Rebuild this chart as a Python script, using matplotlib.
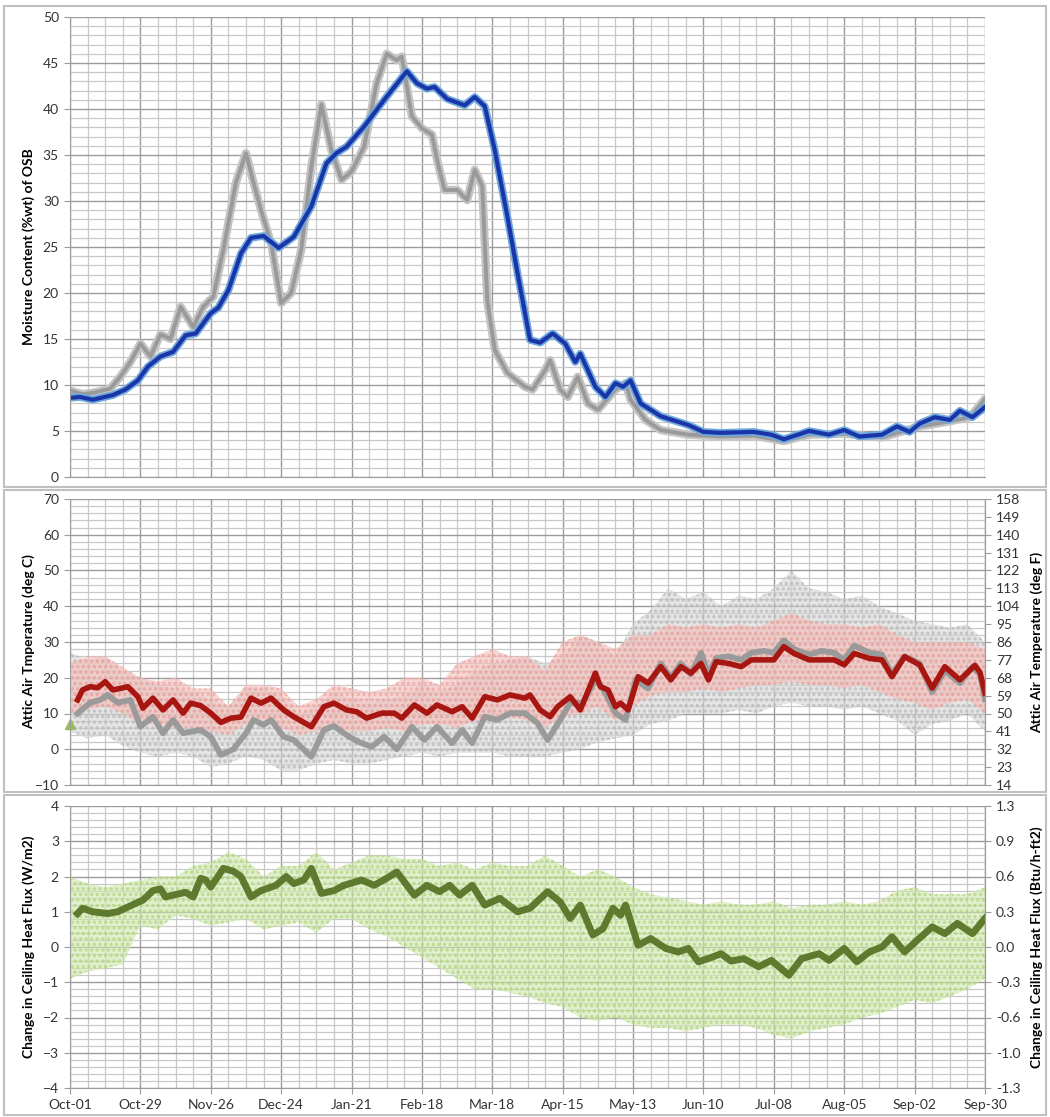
import numpy as np
import matplotlib
matplotlib.use("Agg")
import matplotlib.pyplot as plt
from matplotlib.ticker import MultipleLocator
from matplotlib.patches import Rectangle

plt.rcParams['font.family'] = ['Lato', 'DejaVu Sans']
plt.rcParams['hatch.linewidth'] = 1.6

# ---- x axis (days since Oct-01) ----
tick_days = [0, 28, 56, 84, 112, 140, 168, 196, 224, 252, 280, 308, 336, 364]
tick_labels = ["Oct-01", "Oct-29", "Nov-26", "Dec-24", "Jan-21", "Feb-18", "Mar-18",
               "Apr-15", "May-13", "Jun-10", "Jul-08", "Aug-05", "Sep-02", "Sep-30"]
week_days = list(range(0, 365, 7))

# ---- top panel: moisture content of OSB (%wt) ----
mc_blue_day = [0, 4, 9, 17, 22, 27, 31, 36, 41, 46, 50, 56, 59, 63, 68, 72, 77, 83, 89, 96,
               102, 106, 110, 117, 125, 134, 138, 142, 145, 150, 157, 161, 165, 169, 174, 178, 183, 187, 192, 197,
               201, 203, 209, 213, 217, 220, 223, 227, 235, 246, 252, 259, 272, 279, 284, 294, 302, 308, 314, 323,
               329, 334, 338, 344, 350, 354, 359, 364]
mc_blue = [8.6, 8.7, 8.4, 8.9, 9.5, 10.5, 12.0, 13.1, 13.6, 15.4, 15.6, 17.8, 18.4, 20.3, 24.3, 26.0, 26.2, 24.9, 26.1, 29.4,
           34.1, 35.2, 35.9, 38.1, 41.0, 44.1, 42.8, 42.2, 42.4, 41.1, 40.4, 41.3, 40.3, 35.5, 28.3, 22.2, 14.9, 14.6, 15.6, 14.5,
           12.5, 13.4, 9.8, 8.7, 10.2, 9.8, 10.5, 8.0, 6.6, 5.65, 4.9, 4.8, 4.9, 4.6, 4.1, 5.0, 4.6, 5.1, 4.4, 4.6,
           5.5, 4.9, 5.8, 6.5, 6.2, 7.2, 6.5, 7.6]

mc_gray_day = [0, 5, 10, 16, 20, 24, 28, 32, 36, 40, 44, 49, 53, 57, 61, 66, 70, 73, 76, 80,
               84, 88, 92, 96, 100, 104, 108, 112, 117, 122, 126, 130, 132, 136, 140, 144, 146, 149, 154, 158,
               161, 164, 166, 169, 174, 181, 184, 189, 191, 195, 198, 202, 206, 210, 217, 221, 223, 229, 235, 246,
               259, 272, 284, 294, 308, 323, 338, 349, 358, 364]
mc_gray = [9.4, 9.0, 9.2, 9.6, 10.9, 12.5, 14.5, 13.1, 15.5, 15.0, 18.5, 16.3, 18.5, 19.6, 24.7, 32.0, 35.2, 32.0, 29.0, 25.4,
           18.9, 20.0, 24.7, 33.7, 40.5, 35.5, 32.3, 33.2, 35.9, 42.8, 46.0, 45.3, 45.7, 39.2, 37.9, 37.2, 34.5, 31.2, 31.2, 30.1,
           33.4, 31.6, 19.2, 13.8, 11.3, 9.8, 9.5, 11.6, 12.7, 9.5, 8.7, 10.9, 8.0, 7.3, 9.5, 10.2, 8.4, 6.2, 5.1, 4.6,
           4.4, 4.5, 3.9, 4.6, 4.7, 4.3, 5.5, 6.0, 6.5, 8.5]

# ---- middle panel: attic air temperature (deg C) ----
red_day = [3, 5, 8, 11, 14, 17, 20, 23, 27, 29, 33, 37, 41, 45, 48, 52, 56, 60, 64, 68,
           72, 76, 80, 85, 89, 96, 101, 105, 110, 114, 118, 124, 129, 132, 137, 142, 146, 152, 156, 160,
           165, 170, 175, 181, 183, 187, 191, 194, 199, 203, 209, 211, 214, 217, 219, 222, 226, 230, 235, 239,
           243, 247, 251, 254, 257, 262, 267, 271, 276, 280, 284, 288, 294, 299, 304, 308, 312, 318, 323, 327,
           332, 338, 343, 348, 354, 360, 362, 364]
red_temp = [13.8, 16.6, 17.5, 17.2, 18.9, 16.6, 17.0, 17.5, 14.7, 11.5, 14.3, 11.0, 13.8, 10.1, 12.9, 12.2, 10.1, 7.5, 8.7, 9.0,
            14.3, 12.9, 14.3, 11.0, 9.1, 6.3, 11.9, 12.9, 11.0, 10.5, 8.7, 10.1, 10.1, 8.7, 12.4, 10.1, 12.4, 10.5, 11.9, 8.7,
            14.7, 13.8, 15.2, 14.3, 15.2, 11.0, 9.1, 11.9, 14.7, 11.0, 21.3, 17.5, 16.6, 11.9, 12.9, 11.0, 20.3, 18.5, 23.1, 19.4,
            23.1, 21.3, 24.0, 19.4, 24.5, 24.0, 23.1, 25.0, 25.0, 25.0, 28.7, 26.8, 25.0, 25.0, 25.0, 23.6, 26.8, 25.4, 25.0, 20.3,
            25.9, 23.6, 17.1, 23.1, 19.4, 23.5, 21.5, 15.7]

gray_t_day = [3, 8, 12, 15, 19, 24, 28, 33, 37, 41, 45, 52, 56, 60, 65, 70, 73, 77, 80, 85,
              89, 96, 101, 105, 111, 115, 120, 125, 130, 136, 141, 146, 152, 156, 160, 165, 170, 175, 181, 186,
              190, 195, 199, 204, 209, 212, 217, 221, 225, 230, 235, 239, 243, 247, 251, 254, 257, 262, 267, 271,
              276, 280, 284, 288, 294, 299, 304, 308, 312, 318, 323, 327, 332, 338, 343, 348, 354, 359, 362, 364]
gray_temp = [10.0, 13.0, 13.8, 15.2, 13.0, 13.8, 6.3, 9.1, 4.5, 8.2, 4.5, 5.4, 3.5, -1.6, 0.0, 4.5, 8.2, 6.8, 8.2, 3.5,
             2.6, -2.1, 5.4, 6.5, 3.5, 2.0, 0.7, 3.5, 0.0, 6.3, 2.6, 6.3, 1.7, 5.4, 1.7, 9.1, 8.2, 10.1, 10.1, 7.3,
             2.6, 8.2, 12.9, 13.0, 19.4, 17.0, 10.1, 8.2, 19.4, 17.0, 24.0, 20.0, 24.0, 21.0, 27.0, 21.0, 25.5, 26.0, 25.0, 27.0,
             27.5, 27.0, 30.5, 28.0, 26.5, 27.5, 27.0, 25.0, 29.0, 27.0, 26.5, 21.0, 26.0, 24.0, 16.0, 22.0, 18.5, 23.0, 21.0, 14.0]

# weekly envelopes of the hourly clouds
gray_cloud_hi = [27, 25, 26, 22, 20, 18, 17, 16, 14, 12, 17, 17, 15, 10, 12, 16, 14, 13, 14, 15,
                 18, 16, 18, 22, 24, 25, 26, 24, 26, 32, 30, 26, 35, 39, 45, 42, 44, 40, 43, 42,
                 45, 50, 45, 44, 42, 43, 40, 38, 36, 35, 34, 35, 30]
gray_cloud_lo = [5, 3, 4, 1, -1, -2, -1, -2, -5, -4, -2, -3, -6, -6, -4, -3, -4, -4, -3, -2,
                 -1, -2, -1, -1, -1, -2, -2, -2, -1, 0, 2, 3, 4, 7, 8, 10, 10, 10, 11, 10,
                 12, 13, 12, 12, 11, 12, 10, 8, 4, 7, 8, 10, 5]
pink_cloud_hi = [24, 26, 26, 23, 20, 19, 20, 17, 17, 12, 18, 18, 17, 12, 14, 18, 17, 16, 17, 20,
                 20, 18, 24, 26, 28, 26, 26, 22, 30, 32, 30, 28, 32, 32, 35, 34, 35, 34, 35, 34,
                 36, 38, 36, 35, 35, 34, 35, 32, 30, 30, 30, 30, 28]
pink_cloud_lo = [10, 11, 12, 10, 7, 7, 6, 6, 5, 4, 7, 8, 6, 4, 5, 6, 5, 5, 6, 5,
                 7, 7, 6, 8, 8, 9, 8, 6, 9, 10, 12, 8, 12, 15, 16, 16, 17, 16, 17, 18,
                 18, 19, 18, 18, 17, 18, 16, 14, 13, 11, 13, 14, 10]

# ---- bottom panel: change in ceiling heat flux (W/m2) ----
green_day = [3, 5, 9, 15, 19, 22, 25, 29, 33, 36, 38, 44, 46, 49, 52, 54, 56, 61, 65, 68,
             72, 76, 82, 86, 89, 93, 96, 100, 105, 109, 116, 121, 126, 130, 137, 142, 147, 151, 155, 160,
             165, 171, 178, 183, 190, 195, 199, 203, 208, 212, 216, 219, 221, 226, 231, 237, 242, 246, 250, 255,
             259, 263, 268, 274, 279, 286, 291, 298, 302, 308, 313, 318, 323, 327, 332, 337, 343, 348, 353, 359,
             364]
green_flux = [0.95, 1.1, 1.0, 0.95, 1.0, 1.1, 1.2, 1.33, 1.6, 1.65, 1.42, 1.52, 1.55, 1.42, 1.95, 1.9, 1.7, 2.23, 2.15, 2.0,
              1.42, 1.6, 1.75, 2.0, 1.8, 1.9, 2.23, 1.52, 1.6, 1.75, 1.9, 1.75, 1.95, 2.13, 1.47, 1.75, 1.57, 1.75, 1.47, 1.75,
              1.19, 1.38, 1.0, 1.1, 1.57, 1.28, 0.81, 1.19, 0.34, 0.52, 1.1, 0.9, 1.19, 0.05, 0.24, -0.04, -0.14, -0.04, -0.42, -0.3,
              -0.19, -0.4, -0.33, -0.56, -0.38, -0.8, -0.33, -0.19, -0.38, -0.04, -0.42, -0.14, 0.0, 0.29, -0.14, 0.19, 0.57, 0.38, 0.67, 0.38,
              0.81]
green_cloud_hi = [2.0, 1.8, 1.7, 1.8, 1.9, 2.0, 2.0, 2.3, 2.4, 2.7, 2.5, 2.0, 2.3, 2.3, 2.7, 2.2, 2.4, 2.6, 2.6, 2.5,
                  2.5, 2.3, 2.4, 2.2, 2.4, 2.3, 2.3, 2.6, 2.3, 2.0, 2.2, 2.0, 1.7, 1.5, 1.4, 1.3, 1.2, 1.3, 1.2, 1.2,
                  1.3, 1.1, 1.2, 1.2, 1.3, 1.2, 1.3, 1.6, 1.7, 1.5, 1.5, 1.5, 1.7]
green_cloud_lo = [-0.9, -0.7, -0.6, -0.5, 0.6, 0.5, 0.9, 0.8, 0.6, 0.7, 0.8, 0.5, 0.6, 0.7, 0.4, 0.8, 0.8, 0.5, 0.3, 0.0,
                  -0.3, -0.6, -0.9, -1.2, -1.2, -1.3, -1.4, -1.6, -1.7, -2.0, -2.1, -2.0, -2.2, -2.3, -2.3, -2.4, -2.3, -2.2, -2.2, -2.3,
                  -2.5, -2.6, -2.4, -2.3, -2.2, -2.0, -1.9, -1.7, -1.5, -1.6, -1.4, -1.2, -0.9]
flux_right_labels = ["-1.3", "-1.0", "-0.6", "-0.3", "0.0", "0.3", "0.6", "0.9", "1.3"]

W, H = 1050, 1117
fig = plt.figure(figsize=(W / 100, H / 100), dpi=100)


def px_axes(x0, y0, x1, y1):
    return fig.add_axes([x0 / W, 1 - y1 / H, (x1 - x0) / W, (y1 - y0) / H])


def style(ax, ymin, ymax, major, minor, show_x):
    ax.set_xlim(0, 364)
    ax.set_ylim(ymin, ymax)
    ax.set_xticks(tick_days)
    ax.xaxis.set_minor_locator(MultipleLocator(7))
    ax.yaxis.set_major_locator(MultipleLocator(major))
    ax.yaxis.set_minor_locator(MultipleLocator(minor))
    ax.grid(which='minor', color='#c8c8c8', lw=0.9)
    ax.grid(which='major', color='#9c9c9c', lw=1.0)
    ax.set_axisbelow(True)
    ax.tick_params(which='minor', length=0)
    ax.tick_params(which='major', length=4, color='#9c9c9c', labelsize=10, colors='#333333', pad=4)
    if show_x:
        ax.set_xticklabels(tick_labels)
    else:
        ax.set_xticklabels([])
        ax.tick_params(axis='x', length=0)
    for s in ax.spines.values():
        s.set_color('#9c9c9c')
    ax.spines['top'].set_visible(False)
    ax.yaxis.set_label_coords(-0.038, 0.5)


def cloud(ax, lo, hi, face, dots):
    ax.fill_between(week_days, lo, hi, facecolor=face, edgecolor=dots,
                    hatch='...', lw=0, alpha=0.62)


def right_axis(ax, ymin, ymax, ticks, labels, title):
    r = ax.twinx()
    r.set_ylim(ymin, ymax)
    r.set_yticks(ticks)
    r.set_yticklabels(labels)
    r.tick_params(length=4, color='#9c9c9c', labelsize=10, colors='#333333', pad=4)
    r.set_ylabel(title, fontsize=10, fontweight='bold')
    r.yaxis.set_label_coords(1.05, 0.5)
    for s in r.spines.values():
        s.set_visible(False)
    r.spines['right'].set_visible(True)
    r.spines['right'].set_color('#9c9c9c')
    return r


# panel frames
for y0, y1 in [(6, 487), (490, 792), (795, 1115)]:
    fig.patches.append(Rectangle((4 / W, 1 - y1 / H), 1042 / W, (y1 - y0) / H,
                                 transform=fig.transFigure, fill=False,
                                 edgecolor='#c0c0c0', lw=1.5))

# ---- top ----
ax1 = px_axes(70, 17, 985, 477)
style(ax1, 0, 50, 5, 1, False)
ax1.plot(mc_gray_day, mc_gray, color='#c4c4c4', lw=6, solid_capstyle='round')
ax1.plot(mc_gray_day, mc_gray, color='#9a9a9a', lw=2.8)
ax1.plot(mc_blue_day, mc_blue, color='#6fa8dc', lw=5.5, solid_capstyle='round')
ax1.plot(mc_blue_day, mc_blue, color='#1a35a8', lw=3.0)
ax1.set_ylabel("Moisture Content (%wt) of OSB", fontsize=10, fontweight='bold')
ax1.spines['right'].set_visible(False)

# ---- middle ----
ax2 = px_axes(70, 499, 985, 785)
style(ax2, -10, 70, 10, 2, False)
cloud(ax2, gray_cloud_lo, gray_cloud_hi, '#d6d6d6', '#b0b0b0')
cloud(ax2, pink_cloud_lo, pink_cloud_hi, '#f3bdb9', '#ec9d97')
ax2.plot(gray_t_day, gray_temp, color='#9a9a9a', lw=4.2)
ax2.plot(red_day, red_temp, color='#a81612', lw=4.0)
ax2.plot([0], [7], marker='^', color='#9bbb59', ms=7, clip_on=False)
ax2.set_ylabel("Attic Air Tmperature (deg C)", fontsize=10, fontweight='bold')
c_ticks = np.arange(-10, 71, 5)
right_axis(ax2, -10, 70, c_ticks, [f"{c * 1.8 + 32:.0f}" for c in c_ticks],
           "Attic Air Temperature (deg F)")

# ---- bottom ----
ax3 = px_axes(70, 806, 985, 1088)
style(ax3, -4, 4, 1, 0.2, True)
cloud(ax3, green_cloud_lo, green_cloud_hi, '#d0e7ad', '#a8cf70')
ax3.plot(green_day, green_flux, color='#5e7a2e', lw=5)
ax3.set_ylabel("Change in Ceiling Heat Flux (W/m2)", fontsize=10, fontweight='bold')
right_axis(ax3, -4, 4, list(range(-4, 5)), flux_right_labels,
           "Change in Ceiling Heat Flux (Btu/h-ft2)")

fig.savefig("out.png", dpi=100)
